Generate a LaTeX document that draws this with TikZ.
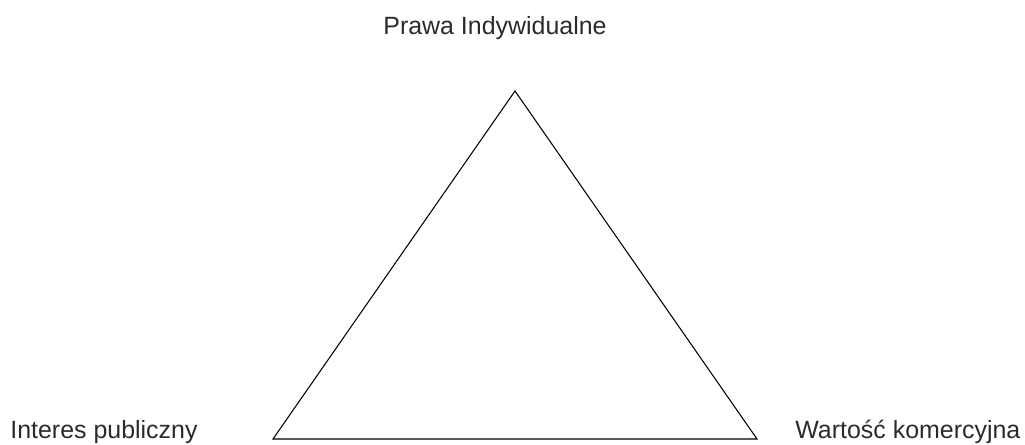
\documentclass[tikz,border=0pt]{standalone}
\usepackage{fontspec}
\setmainfont{Liberation Sans}
\usepackage{xcolor}
\usepackage{tikz}
\usetikzlibrary{positioning,calc}

\definecolor{labelgray}{HTML}{2B2B2B}

\begin{document}
\begin{tikzpicture}[x=0.02cm, y=-0.02cm,
		cornerlabel/.style={text=labelgray, inner sep=0pt, font=\fontsize{14.2}{17}\selectfont}]
		\useasboundingbox (0,0) rectangle (1025,445);

		\coordinate (P) at (515,91);
		\coordinate (I) at (273,439);
		\coordinate (W) at (757,439);

		\draw[line width=0.6pt, line join=miter] (P) -- (W) -- (I) -- cycle;

		\node[cornerlabel, anchor=base] (prawa) at (495,35) {Prawa Indywidualne};
		\node[cornerlabel, anchor=base west] (interes) at (10,439) {Interes publiczny};
		\node[cornerlabel, anchor=base west] (wartosc) at (795,439) {Wartość komercyjna};
	\end{tikzpicture}
\end{document}
